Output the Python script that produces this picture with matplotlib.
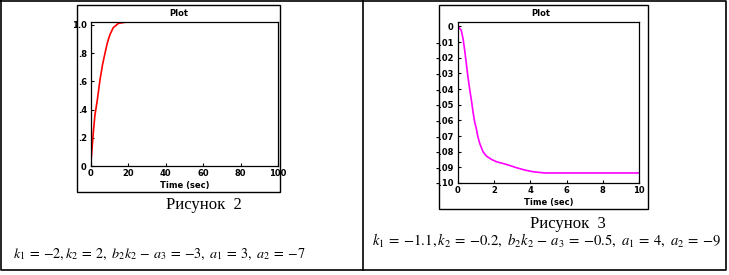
import numpy as np
import matplotlib
matplotlib.use("Agg")
import matplotlib.pyplot as plt
from matplotlib.patches import Rectangle

plt.rcParams['mathtext.fontset'] = 'stix'

# Figure 2: step response (red)
t2 = [0, 0.05, 0.36, 0.9, 1.25, 2.1, 3.4, 4.8, 6.2, 7.5, 8.7, 10.1, 11.9, 14.6, 19, 100]
y2 = [0, 0.04, 0.09, 0.18, 0.24, 0.36, 0.47, 0.61, 0.72, 0.80, 0.87, 0.93, 0.98, 1.01, 1.02, 1.02]
x2_ticks = [0, 20, 40, 60, 80, 100]
y2_ticks = [0, 0.2, 0.4, 0.6, 0.8, 1.0]
y2_labels = ['0', '.2', '.4', '.6', '.8', '1.0']

# Figure 3: response (magenta)
t3 = [0, 0.18, 0.28, 0.37, 0.46, 0.55, 0.64, 0.74, 0.83, 0.92, 1.01, 1.10, 1.20,
      1.38, 1.57, 1.84, 2.12, 2.67, 3.22, 3.68, 4.14, 4.79, 10]
y3 = [0.0, -0.0025, -0.0079, -0.0153, -0.0238, -0.0323, -0.0397, -0.0471, -0.0546,
      -0.0609, -0.0652, -0.0705, -0.0747, -0.0800, -0.0828, -0.0849, -0.0864,
      -0.0881, -0.0902, -0.0917, -0.0928, -0.0936, -0.0936]
x3_ticks = [0, 2, 4, 6, 8, 10]
y3_ticks = [0, -0.01, -0.02, -0.03, -0.04, -0.05, -0.06, -0.07, -0.08, -0.09, -0.10]
y3_labels = ['0', '-.01', '-.02', '-.03', '-.04', '-.05', '-.06', '-.07', '-.08', '-.09', '-.10']

caption2 = 'Рисунок  2'
caption3 = 'Рисунок  3'
eq = r'\:=\:'
formula2 = (r'$k_1' + eq + r'{-}2,k_2' + eq + r'2,\ b_2k_2\,-\,a_3' + eq + r'{-}3,\ a_1' + eq +
            r'3,\ a_2' + eq + r'{-}7$')
formula3 = (r'$k_1' + eq + r'{-}1.1,k_2' + eq + r'{-}0.2,\ b_2k_2\,-\,a_3' + eq + r'{-}0.5,\ a_1' + eq +
            r'4,\ a_2' + eq + r'{-}9$')

W, H = 729, 275
fig = plt.figure(figsize=(W / 100, H / 100), dpi=100)

# background layer in pixel coordinates
bg = fig.add_axes([0, 0, 1, 1])
bg.set_xlim(0, W)
bg.set_ylim(H, 0)
bg.axis('off')

# table cell borders
bg.plot([0.5, 726, 726, 0.5, 0.5], [0.8, 0.8, 270, 270, 0.8], color='black', lw=1.2)
bg.plot([363, 363], [0, 270], color='black', lw=1.2)

# plot frames
bg.add_patch(Rectangle((77, 5), 203, 187, fill=False, ec='black', lw=1))
bg.add_patch(Rectangle((439, 5), 209, 204, fill=False, ec='black', lw=1))

tick_font = dict(fontsize=6, fontweight='bold', family='DejaVu Sans')


def make_axes(rect_px, x, y, color, xlim, ylim, xt, yt, ylab):
    x0, top, x1, bottom = rect_px
    ax = fig.add_axes([x0 / W, 1 - bottom / H, (x1 - x0) / W, (bottom - top) / H])
    ax.plot(x, y, color=color, lw=1.2)
    ax.set_xlim(*xlim)
    ax.set_ylim(*ylim)
    ax.set_xticks(xt)
    ax.set_xticklabels([str(v) for v in xt], **tick_font)
    ax.set_yticks(yt)
    ax.set_yticklabels(ylab, **tick_font)
    ax.tick_params(direction='in', length=2.5, width=0.8)
    ax.tick_params(axis='y', pad=3)
    ax.tick_params(axis='x', pad=2)
    for s in ax.spines.values():
        s.set_linewidth(0.9)
    ax.set_xlabel('Time (sec)', fontsize=6, fontweight='bold', labelpad=2)
    return ax


ax2 = make_axes((91, 22, 278, 166), t2, y2, '#ff0000', (0, 100), (0, 1.02),
                x2_ticks, y2_ticks, y2_labels)
ax3 = make_axes((458, 22, 639, 183), t3, y3, '#ff00ff', (0, 10), (-0.10, 0.0028),
                x3_ticks, y3_ticks, y3_labels)

# titles centered on frames
bg.text(178.5, 13.5, 'Plot', ha='center', va='center', fontsize=6, fontweight='bold')
bg.text(541, 13.5, 'Plot', ha='center', va='center', fontsize=6, fontweight='bold')

# captions
bg.text(204, 209, caption2, ha='center', va='baseline', fontsize=12,
        family='Liberation Serif')
bg.text(567.5, 228, caption3, ha='center', va='baseline', fontsize=12,
        family='Liberation Serif')

# formulas
bg.text(13, 258, formula2, ha='left', va='baseline', fontsize=10.2)
bg.text(372, 245, formula3, ha='left', va='baseline', fontsize=10.6)

fig.savefig('out.png', dpi=100)
